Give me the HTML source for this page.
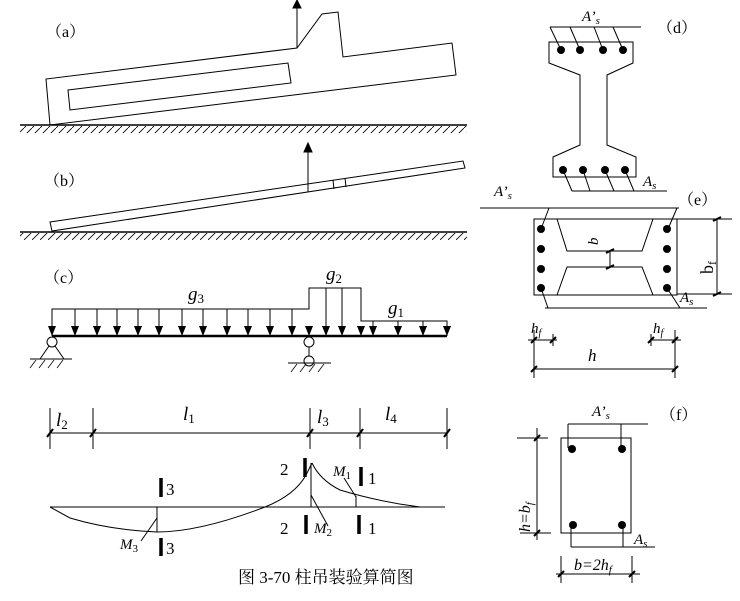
<!DOCTYPE html>
<html><head><meta charset="utf-8"><style>
html,body{margin:0;padding:0;background:#fff}
svg{display:block}
text{font-family:"Liberation Serif","Noto Serif CJK SC",serif;fill:#000}
.i{font-style:italic}
</style></head><body>
<svg width="740" height="601" viewBox="0 0 740 601" xmlns="http://www.w3.org/2000/svg">
<defs>
<pattern id="hatch" width="8" height="8" patternUnits="userSpaceOnUse">
<path d="M8,0 L0,8" stroke="#000" stroke-width="0.8"/></pattern>
</defs>
<g fill="none" stroke="#000" stroke-width="1">
<polygon points="50,125 46,79 297,48 322,14 338,12 343,57 452,43 456,75"/>
<polygon points="68,90 288,63 291,83 70,110"/>
<line x1="297" y1="48" x2="297" y2="5"/>
<path d="M293,8 L297,0 L301,8 Z" fill="#000"/>
<line x1="20" y1="125" x2="467" y2="125" stroke-width="1.5"/>
<rect x="20" y="126" width="447" height="7" fill="url(#hatch)" stroke="none"/>
<polygon points="50,222 463,161 465,168 52,231"/>
<line x1="333" y1="180" x2="334" y2="189"/>
<line x1="345" y1="178" x2="346" y2="187"/>
<line x1="308" y1="192" x2="308" y2="150"/>
<path d="M304,152 L308,143 L312,152 Z" fill="#000"/>
<line x1="20" y1="232" x2="467" y2="232" stroke-width="1.5"/>
<rect x="20" y="233" width="447" height="7" fill="url(#hatch)" stroke="none"/>
<polyline points="52,336 52,309 309,309 309,288 361,288 361,321 447,321 447,336"/>
<g>
<line x1="75" y1="309" x2="75" y2="328"/><line x1="97" y1="309" x2="97" y2="328"/><line x1="117" y1="309" x2="117" y2="328"/><line x1="138" y1="309" x2="138" y2="328"/><line x1="159" y1="309" x2="159" y2="328"/><line x1="182" y1="309" x2="182" y2="328"/><line x1="203" y1="309" x2="203" y2="328"/><line x1="227" y1="309" x2="227" y2="328"/><line x1="248" y1="309" x2="248" y2="328"/><line x1="270" y1="309" x2="270" y2="328"/><line x1="292" y1="309" x2="292" y2="328"/>
<line x1="326" y1="288" x2="326" y2="328"/><line x1="342" y1="288" x2="342" y2="328"/>
<line x1="373" y1="321" x2="373" y2="328"/><line x1="398" y1="321" x2="398" y2="328"/><line x1="423" y1="321" x2="423" y2="328"/>
</g>
<g fill="#000" stroke="none">
<path d="M48,326 L56,326 L52,336Z"/><path d="M71,326 L79,326 L75,336Z"/><path d="M93,326 L101,326 L97,336Z"/><path d="M113,326 L121,326 L117,336Z"/><path d="M134,326 L142,326 L138,336Z"/><path d="M155,326 L163,326 L159,336Z"/><path d="M178,326 L186,326 L182,336Z"/><path d="M199,326 L207,326 L203,336Z"/><path d="M223,326 L231,326 L227,336Z"/><path d="M244,326 L252,326 L248,336Z"/><path d="M266,326 L274,326 L270,336Z"/><path d="M288,326 L296,326 L292,336Z"/><path d="M305,326 L313,326 L309,336Z"/><path d="M322,326 L330,326 L326,336Z"/><path d="M338,326 L346,326 L342,336Z"/><path d="M357,326 L365,326 L361,336Z"/><path d="M369,326 L377,326 L373,336Z"/><path d="M394,326 L402,326 L398,336Z"/><path d="M419,326 L427,326 L423,336Z"/><path d="M443,326 L451,326 L447,336Z"/>
</g>
<line x1="52" y1="336" x2="447" y2="336" stroke-width="2.5"/>
<circle cx="52" cy="342" r="5" fill="#fff"/>
<polyline points="49,346 40,359 64,359 55,346"/>
<line x1="30" y1="359" x2="72" y2="359"/>
<g stroke-width="0.8"><line x1="36" y1="360" x2="30" y2="368"/><line x1="45" y1="360" x2="39" y2="368"/><line x1="54" y1="360" x2="48" y2="368"/><line x1="63" y1="360" x2="57" y2="368"/></g>
<circle cx="309" cy="342" r="5" fill="#fff"/>
<line x1="309" y1="347" x2="309" y2="356"/>
<circle cx="309" cy="361" r="5" fill="#fff"/>
<line x1="288" y1="363" x2="331" y2="363"/>
<g stroke-width="0.8"><line x1="297" y1="364" x2="291" y2="372"/><line x1="306" y1="364" x2="300" y2="372"/><line x1="315" y1="364" x2="309" y2="372"/><line x1="324" y1="364" x2="318" y2="372"/></g>
<line x1="50" y1="433" x2="447" y2="433"/>
<line x1="50" y1="408" x2="50" y2="449"/><line x1="93" y1="408" x2="93" y2="449"/><line x1="310" y1="408" x2="310" y2="449"/><line x1="360" y1="408" x2="360" y2="449"/><line x1="447" y1="408" x2="447" y2="449"/>
<g stroke-width="2"><line x1="47" y1="437" x2="53" y2="429"/><line x1="90" y1="437" x2="96" y2="429"/><line x1="307" y1="437" x2="313" y2="429"/><line x1="357" y1="437" x2="363" y2="429"/><line x1="444" y1="437" x2="450" y2="429"/></g>
<line x1="50" y1="507" x2="445" y2="507"/>
<path d="M50,507 L70,518 Q110,530 157,532 Q200,532 265,507 Q295,495 306,475 L312,463"/>
<path d="M312,463 Q320,480 340,490 Q380,502 420,507 L445,507"/>
<line x1="311" y1="463" x2="311" y2="507"/>
<line x1="157" y1="507" x2="157" y2="532"/>
<line x1="356" y1="496" x2="356" y2="507"/>
<line x1="157" y1="518" x2="141" y2="541"/>
<line x1="311" y1="495" x2="328" y2="526"/>
<line x1="344" y1="478" x2="356" y2="497"/>
<g stroke-width="3.5"><line x1="161" y1="478" x2="161" y2="497"/><line x1="161" y1="538" x2="161" y2="556"/><line x1="305" y1="458" x2="305" y2="477"/><line x1="306" y1="515" x2="306" y2="534"/><line x1="361" y1="467" x2="361" y2="486"/><line x1="359" y1="515" x2="359" y2="534"/></g>
<line x1="550" y1="27" x2="641" y2="27"/>
<polygon points="549,42 633,42 633,63 607,75 607,145 636,157 636,177 553,177 553,157 580,145 580,75 549,63"/>
<line x1="550" y1="27" x2="561" y2="50"/><line x1="570" y1="27" x2="580" y2="50"/><line x1="594" y1="27" x2="603" y2="50"/><line x1="613" y1="27" x2="623" y2="50"/>
<line x1="572" y1="191" x2="667" y2="191"/>
<line x1="563" y1="170" x2="572" y2="191"/><line x1="583" y1="170" x2="590" y2="191"/><line x1="605" y1="170" x2="614" y2="191"/><line x1="625" y1="170" x2="634" y2="191"/>
<g fill="#000" stroke="none"><circle cx="561" cy="50" r="4"/><circle cx="580" cy="50" r="4"/><circle cx="603" cy="50" r="4"/><circle cx="623" cy="50" r="4"/><circle cx="563" cy="170" r="4"/><circle cx="583" cy="170" r="4"/><circle cx="605" cy="170" r="4"/><circle cx="625" cy="170" r="4"/></g>
<line x1="480" y1="208" x2="679" y2="208"/>
<rect x="534" y="219" width="143" height="76"/>
<polyline points="557,219 567,251 642,251 653,219"/>
<polyline points="557,295 567,267 642,267 653,295"/>
<line x1="549" y1="208" x2="541" y2="229"/><line x1="677" y1="208" x2="668" y2="229"/>
<line x1="545" y1="308" x2="707" y2="308"/>
<line x1="541" y1="288" x2="548" y2="308"/><line x1="667" y1="288" x2="680" y2="308"/>
<g fill="#000" stroke="none"><circle cx="541" cy="229" r="4"/><circle cx="541" cy="249" r="4"/><circle cx="541" cy="269" r="4"/><circle cx="541" cy="288" r="4"/><circle cx="667" cy="229" r="4"/><circle cx="667" cy="249" r="4"/><circle cx="667" cy="269" r="4"/><circle cx="667" cy="288" r="4"/></g>
<line x1="610" y1="251" x2="610" y2="267"/>
<line x1="677" y1="219" x2="732" y2="219"/><line x1="677" y1="294" x2="732" y2="294"/>
<line x1="717" y1="219" x2="717" y2="294"/>
<g stroke-width="2"><line x1="606" y1="253" x2="614" y2="249"/><line x1="606" y1="269" x2="614" y2="265"/><line x1="713" y1="221" x2="721" y2="217"/><line x1="713" y1="296" x2="721" y2="292"/></g>
<line x1="534" y1="330" x2="534" y2="378"/><line x1="675" y1="330" x2="675" y2="378"/>
<line x1="528" y1="340" x2="557" y2="340"/><line x1="553" y1="334" x2="553" y2="346"/>
<line x1="651" y1="340" x2="681" y2="340"/><line x1="651" y1="334" x2="651" y2="346"/>
<line x1="534" y1="369" x2="675" y2="369"/>
<g stroke-width="2"><line x1="531" y1="343" x2="537" y2="337"/><line x1="550" y1="343" x2="556" y2="337"/><line x1="648" y1="343" x2="654" y2="337"/><line x1="672" y1="343" x2="678" y2="337"/><line x1="531" y1="372" x2="537" y2="366"/><line x1="672" y1="372" x2="678" y2="366"/></g>
<rect x="561" y="438" width="70" height="95"/>
<line x1="568" y1="424" x2="648" y2="424"/>
<line x1="568" y1="424" x2="568" y2="448"/><line x1="621" y1="424" x2="621" y2="448"/>
<line x1="571" y1="547" x2="655" y2="547"/>
<line x1="571" y1="524" x2="571" y2="547"/><line x1="623" y1="524" x2="623" y2="547"/>
<g fill="#000" stroke="none"><circle cx="572" cy="449" r="4"/><circle cx="622" cy="449" r="4"/><circle cx="573" cy="525" r="4"/><circle cx="622" cy="525" r="4"/></g>
<line x1="517" y1="438" x2="548" y2="438"/><line x1="520" y1="533" x2="551" y2="533"/>
<line x1="537" y1="428" x2="537" y2="540"/>
<line x1="561" y1="556" x2="561" y2="583"/><line x1="632" y1="556" x2="632" y2="583"/>
<line x1="556" y1="574" x2="640" y2="574"/>
<g stroke-width="2"><line x1="534" y1="441" x2="540" y2="435"/><line x1="534" y1="536" x2="540" y2="530"/><line x1="558" y1="577" x2="564" y2="571"/><line x1="629" y1="577" x2="635" y2="571"/></g>
</g>
<g font-size="16">
<text x="46" y="37">（a）</text>
<text x="44" y="186">（b）</text>
<text x="44" y="283">（c）</text>
<text x="657" y="33">（d）</text>
<text x="678" y="205">（e）</text>
<text x="660" y="420">（f）</text>
</g>
<g font-size="19" class="i">
<text x="188" y="300">g<tspan font-size="13" dy="3" font-style="normal">3</tspan></text>
<text x="326" y="280">g<tspan font-size="13" dy="3" font-style="normal">2</tspan></text>
<text x="388" y="314">g<tspan font-size="13" dy="3" font-style="normal">1</tspan></text>
<text x="56" y="426">l<tspan font-size="13" dy="3" font-style="normal">2</tspan></text>
<text x="183" y="420">l<tspan font-size="13" dy="3" font-style="normal">1</tspan></text>
<text x="317" y="423">l<tspan font-size="13" dy="3" font-style="normal">3</tspan></text>
<text x="385" y="420">l<tspan font-size="13" dy="3" font-style="normal">4</tspan></text>
</g>
<g font-size="17">
<text x="166" y="495">3</text><text x="166" y="554">3</text>
<text x="280" y="475">2</text><text x="280" y="534">2</text>
<text x="368" y="484">1</text><text x="368" y="534">1</text>
</g>
<g font-size="15" class="i">
<text x="333" y="476">M<tspan font-size="11" dy="3" font-style="normal">1</tspan></text>
<text x="314" y="533">M<tspan font-size="11" dy="3" font-style="normal">2</tspan></text>
<text x="120" y="549">M<tspan font-size="11" dy="3" font-style="normal">3</tspan></text>
<text x="582" y="21">A’<tspan font-size="11" dy="3">s</tspan></text>
<text x="643" y="186">A<tspan font-size="11" dy="3">s</tspan></text>
<text x="494" y="196">A’<tspan font-size="11" dy="3">s</tspan></text>
<text x="680" y="302">A<tspan font-size="11" dy="3">s</tspan></text>
<text x="531" y="333">h<tspan font-size="10" dy="3">f</tspan></text>
<text x="653" y="333">h<tspan font-size="10" dy="3">f</tspan></text>
<text x="588" y="361" font-size="17">h</text>
<text x="592" y="416">A’<tspan font-size="11" dy="3">s</tspan></text>
<text x="634" y="544">A<tspan font-size="11" dy="3">s</tspan></text>
<text x="574" y="570" font-size="16">b=2h<tspan font-size="11" dy="3">f</tspan></text>
<text transform="translate(598,245) rotate(-90)">b</text>
<text transform="translate(530,532) rotate(-90)" font-size="16">h=b<tspan font-size="11" dy="3">f</tspan></text>
</g>
<text transform="translate(713,274) rotate(-90)" font-size="18">b<tspan font-size="12" dy="3">f</tspan></text>
<text x="238" y="583" font-size="17" font-family="'Liberation Sans','Noto Sans CJK SC',sans-serif" fill="#222">图 3-70 柱吊装验算简图</text>
</svg>
</body></html>
